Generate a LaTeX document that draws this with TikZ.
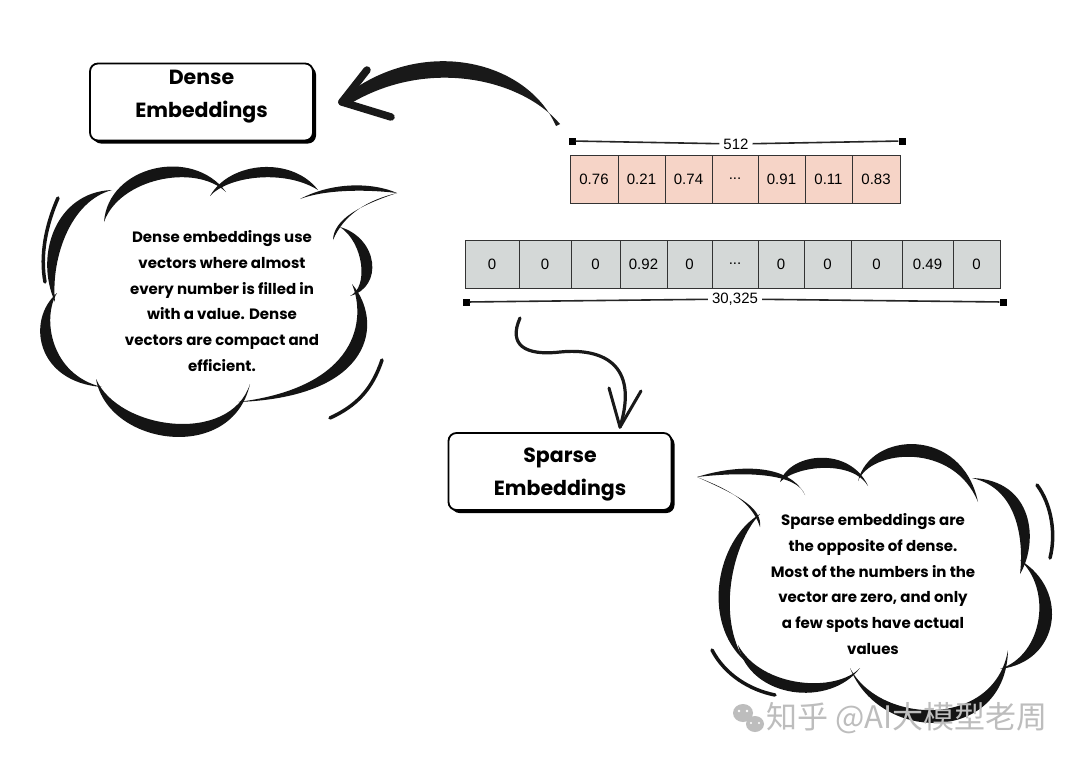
\documentclass[tikz,border=0pt]{standalone}
\usepackage{fontspec}
\newfontfamily\hand{Poppins}
\newfontfamily\num{Liberation Sans}
\newfontfamily\cjk{Noto Sans CJK SC}
\usetikzlibrary{calc,shadows}
\definecolor{pinkcell}{HTML}{F6D4C7}
\definecolor{graycell}{HTML}{D4D8D7}
\definecolor{wmgray}{HTML}{BDBDBD}
\newcommand\cloudbump[6]{%
  \fill #1 .. controls #2 and #3 .. #4 .. controls ($#3!#6!#5$) and ($#2!#6!#5$) .. #1 -- cycle;}
\newcommand\dd{...}
\begin{document}
\begin{tikzpicture}[x=1pt,y=-1pt,
  labelbox/.style={draw, line width=1.8pt, rounded corners=8pt, fill=white,
    minimum width=223pt, minimum height=77pt, align=center,
    font=\hand\bfseries\fontsize{20.5}{33}\selectfont,
    drop shadow={shadow xshift=3pt,shadow yshift=-3pt,fill=black,opacity=1}},
  pcell/.style={draw=black!80, line width=1pt, fill=pinkcell, inner sep=0pt,
    minimum height=48pt, font=\num\fontsize{15}{17}\selectfont},
  gcell/.style={draw=black!80, line width=1pt, fill=graycell, inner sep=0pt,
    minimum height=48pt, font=\num\fontsize{15}{17}\selectfont},
  sq/.style={fill=black, inner sep=0pt, minimum size=7pt},
  dimlab/.style={inner sep=4pt, font=\num\fontsize{15}{17}\selectfont},
  dimline/.style={line width=1.6pt, black!85},
  cloudtext/.style={align=center, font=\hand\bfseries\fontsize{15}{25.7}\selectfont}
]
\useasboundingbox (0,0) rectangle (1080,764);
\fill[white] (0,0) rectangle (1080,764);

% label boxes
\node[labelbox, text depth=16pt] (dense) at (201.5,102) {Dense\\Embeddings};
\node[labelbox, text depth=0pt] (sparse) at (560,471.5) {Sparse\\Embeddings};

% pink vector
\foreach \l/\r/\v [count=\i] in {570/618/0.76,618/665/0.21,665/712/0.74,712/758/\dd,758/805/0.91,805/852/0.11,852/900/0.83}{
  \pgfmathsetmacro\w{\r-\l}
  \pgfmathsetmacro\c{(\l+\r)/2}
  \node[pcell, minimum width=\w pt] (p\i) at (\c,179) {\v};
}
% gray vector
\foreach \l/\r/\v [count=\i] in {465/519/0,519/571/0,571/620/0,620/667/0.92,667/712/0,712/758/\dd,758/804/0,804/851/0,851/902/0,902/953/0.49,953/1000/0}{
  \pgfmathsetmacro\w{\r-\l}
  \pgfmathsetmacro\c{(\l+\r)/2}
  \node[gcell, minimum width=\w pt] (g\i) at (\c,264) {\v};
}

% dimension lines
\node[sq] (a1) at (572,141) {};
\node[sq] (a2) at (902,141) {};
\node[dimlab] (d512) at (736,144) {512};
\draw[dimline] (a1) -- (d512);
\draw[dimline] (d512) -- (a2);
\node[sq] (b1) at (466,302) {};
\node[sq] (b2) at (1003,302) {};
\node[dimlab] (d30) at (735,299) {30,325};
\draw[dimline] (b1) -- (d30);
\draw[dimline] (d30) -- (b2);

% big curved arrow to Dense Embeddings
\coordinate (bstart) at (558,125);
\coordinate (btip) at ($(dense.east)+(28,0)$);
\fill[black!90] ($(bstart)+(-2,1)$) .. controls (527,60) and (421,34) .. ($(btip)+(0,-4)$)
  -- ($(btip)+(3,5)$) .. controls (424,56) and (521,78) .. ($(bstart)+(2,-1)$) -- cycle;
\draw[black!90, line width=7.5pt, line cap=round] (btip) -- (367,70);
\draw[black!90, line width=7.5pt, line cap=round] (btip) -- (391,117);

% squiggly arrow to Sparse Embeddings
\coordinate (sstart) at (520,318);
\coordinate (stip) at ($(sparse.north)+(60,-5)$);
\draw[black!90, line width=3.2pt, line cap=round] (sstart) .. controls (508,345) and (525,356) .. (560,352)
  .. controls (600,348) and (640,362) .. (stip);
\draw[black!90, line width=3pt, line cap=round, line join=round] (609,388) -- (stip) -- (641,391);

% left cloud
\coordinate (O1) at (215,290);
\begin{scope}[black!92]
\cloudbump{(55,302)}{(34,255)}{(56,192)}{(112,190)}{(O1)}{17pt}
\cloudbump{(104,222)}{(108,166)}{(192,146)}{(226,192)}{(O1)}{17pt}
\cloudbump{(210,196)}{(230,161)}{(292,156)}{(318,190)}{(O1)}{15pt}
\cloudbump{(300,199)}{(332,182)}{(372,182)}{(397,193)}{(O1)}{12pt}
\cloudbump{(397,193)}{(368,200)}{(344,214)}{(333,240)}{(O1)}{12pt}
\cloudbump{(340,227)}{(378,238)}{(384,287)}{(350,296)}{(O1)}{15pt}
\cloudbump{(352,284)}{(384,322)}{(374,397)}{(238,402)}{(O1)}{18pt}
\cloudbump{(250,384)}{(232,464)}{(108,446)}{(96,379)}{(O1)}{19pt}
\cloudbump{(102,387)}{(36,382)}{(26,320)}{(57,293)}{(O1)}{16pt}
\draw[line width=3.5pt, line cap=round] (58,198) .. controls (46,225) and (40,255) .. (45,282);
\draw[line width=3.5pt, line cap=round] (382,360) .. controls (372,390) and (356,406) .. (330,418);
\end{scope}
\node[cloudtext] (densetxt) at (222,301) {Dense embeddings use\\vectors where almost\\every number is filled in\\with a value. Dense\\vectors are compact and\\efficient.};

% right cloud
\coordinate (O2) at (880,580);
\begin{scope}[black!92]
\cloudbump{(697,477)}{(742,463)}{(790,465)}{(805,495)}{(O2)}{12pt}
\cloudbump{(697,477)}{(730,490)}{(752,502)}{(760,527)}{(O2)}{12pt}
\cloudbump{(780,482)}{(790,452)}{(850,446)}{(868,486)}{(O2)}{15pt}
\cloudbump{(858,481)}{(870,431)}{(962,426)}{(978,502)}{(O2)}{18pt}
\cloudbump{(972,478)}{(1034,480)}{(1039,542)}{(1020,574)}{(O2)}{16pt}
\cloudbump{(1020,560)}{(1070,590)}{(1060,662)}{(1000,669)}{(O2)}{18pt}
\cloudbump{(1008,650)}{(1006,744)}{(880,744)}{(850,668)}{(O2)}{19pt}
\cloudbump{(860,668)}{(830,708)}{(750,699)}{(738,645)}{(O2)}{16pt}
\cloudbump{(745,661)}{(701,622)}{(716,540)}{(760,514)}{(O2)}{16pt}
\draw[line width=3.5pt, line cap=round] (1037,485) .. controls (1052,505) and (1056,535) .. (1050,558);
\draw[line width=3.5pt, line cap=round] (712,650) .. controls (725,675) and (750,690) .. (775,695);
\end{scope}
\node[cloudtext] (sparsetxt) at (873,584) {Sparse embeddings are\\the opposite of dense.\\Most of the numbers in the\\vector are zero, and only\\a few spots have actual\\values};

% watermark
\fill[wmgray] (743,713) ellipse (10pt and 9pt);
\fill[wmgray] (755,724) ellipse (9pt and 8pt);
\fill[white] (739,711) circle (1.4pt) (747,711) circle (1.4pt) (751,723) circle (1.2pt) (759,723) circle (1.2pt);
\node[anchor=west, inner sep=0pt, text=wmgray, font=\cjk\fontsize{31}{34}\selectfont] (wm) at (766,718) {知乎 @AI大模型老周};
\end{tikzpicture}
\end{document}
